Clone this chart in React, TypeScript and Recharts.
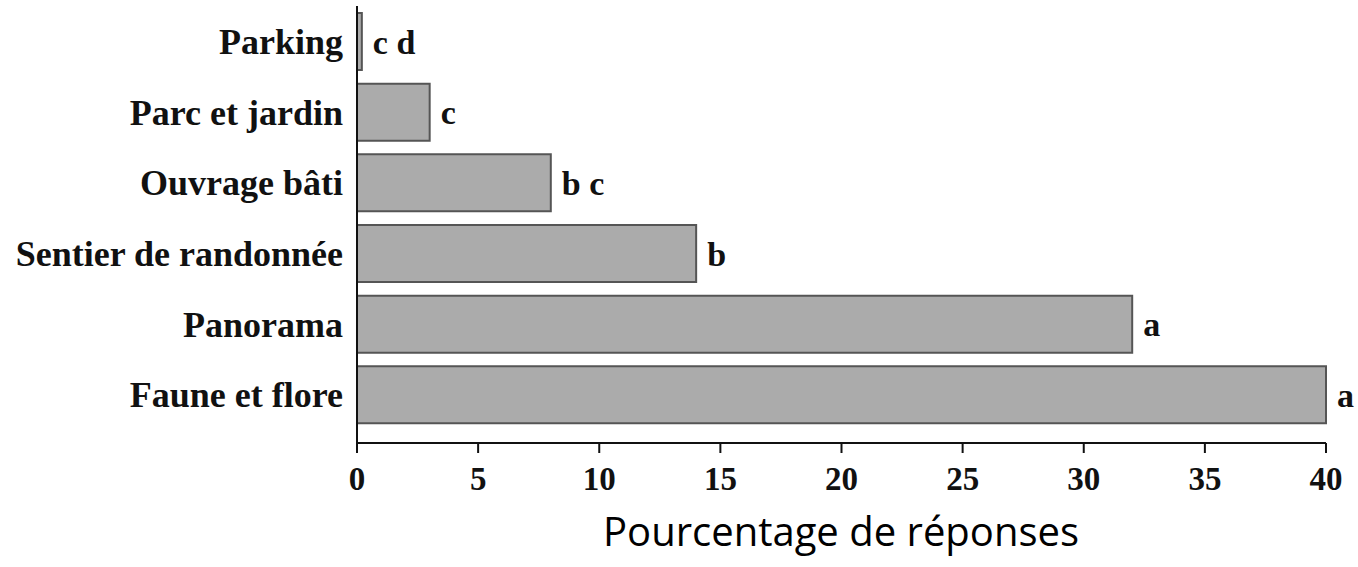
import { BarChart, Bar, XAxis, YAxis, LabelList } from 'recharts';

const categories = ['Parking', 'Parc et jardin', 'Ouvrage bâti', 'Sentier de randonnée', 'Panorama', 'Faune et flore'];
const percentages = [0.2, 3, 8, 14, 32, 40];
const groupLetters = ['c d', 'c', 'b c', 'b', 'a', 'a'];
const xTicks = [0, 5, 10, 15, 20, 25, 30, 35, 40];

const data = categories.map((name, i) => ({
  name,
  value: percentages[i],
  letters: groupLetters[i],
}));

const serif = '"Liberation Serif", "Times New Roman", serif';

export default function App() {
  return (
    <div style={{ position: 'absolute', left: 0, top: 0, background: '#fff' }}>
      <BarChart
        width={1358}
        height={567}
        data={data}
        layout="vertical"
        margin={{ top: 6, right: 32, bottom: 0, left: 0 }}
      >
        <XAxis
          type="number"
          domain={[0, 40]}
          ticks={xTicks}
          height={124}
          stroke="#111"
          strokeWidth={2}
          tickSize={10}
          tickMargin={14}
          tick={{ fill: '#111', fontFamily: serif, fontWeight: 'bold', fontSize: 33 }}
          label={{
            content: () => (
              <text x={841} y={546} textAnchor="middle" fill="#000" fontFamily='"Open Sans", sans-serif' fontSize={40}>
                Pourcentage de réponses
              </text>
            ),
          }}
        />
        <YAxis
          type="category"
          dataKey="name"
          width={357}
          padding={{ top: 0, bottom: 13 }}
          stroke="#111"
          strokeWidth={2}
          tickLine={false}
          tickSize={0}
          tickMargin={14}
          tick={{ fill: '#111', fontFamily: serif, fontWeight: 'bold', fontSize: 36 }}
        />
        <Bar dataKey="value" fill="#ababab" stroke="#555" strokeWidth={2} barSize={57} isAnimationActive={false}>
          <LabelList
            dataKey="letters"
            position="right"
            offset={11}
            fill="#111"
            fontFamily={serif}
            fontWeight="bold"
            fontSize={34}
          />
        </Bar>
      </BarChart>
    </div>
  );
}
